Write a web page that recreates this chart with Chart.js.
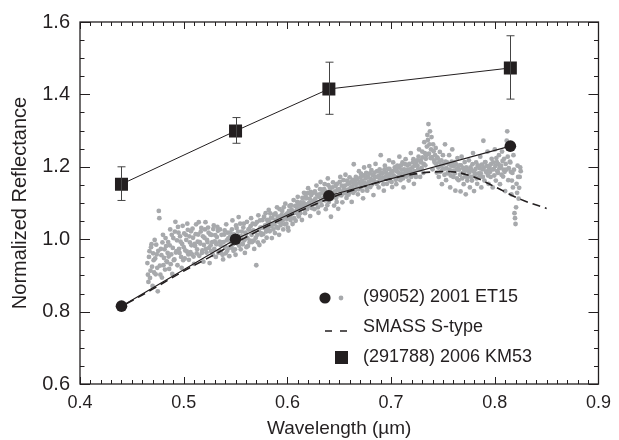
<!DOCTYPE html>
<html>
<head>
<meta charset="utf-8">
<style>
  html, body { margin: 0; padding: 0; background: #fff; }
  #wrap { width: 619px; height: 440px; }
</style>
</head>
<body>
<div id="wrap"><canvas id="myChart" width="619" height="440"></canvas></div>
<script src="https://cdn.jsdelivr.net/npm/chart.js@4.4.1/dist/chart.umd.min.js"></script>
<script>
// (291788) 2006 KM53 photometry
const kmWave = [0.44, 0.55, 0.64, 0.815];
const kmRefl = [1.152, 1.299, 1.415, 1.473];
const kmErrLow = [1.107, 1.265, 1.345, 1.387];
const kmErrHigh = [1.200, 1.336, 1.489, 1.562];

// (99052) 2001 ET15 photometry
const etWave = [0.44, 0.55, 0.64, 0.815];
const etRefl = [0.815, 1.0, 1.12, 1.257];

// SMASS S-type template
const smassWave = [0.445, 0.47, 0.50, 0.53, 0.55, 0.58, 0.61, 0.64, 0.67, 0.70, 0.73, 0.755, 0.78, 0.80, 0.825, 0.85];
const smassRefl = [0.822, 0.862, 0.912, 0.958, 0.99, 1.035, 1.075, 1.112, 1.142, 1.167, 1.183, 1.187, 1.172, 1.145, 1.11, 1.085];

// (99052) 2001 ET15 spectrum (gray dots), two interleaved read-offs
const specWaveA = [
  0.465,0.466,0.467,0.468,0.469,0.470,0.471,0.472,0.473,0.474,
  0.475,0.476,0.477,0.478,0.479,0.480,0.481,0.482,0.483,0.484,
  0.485,0.486,0.487,0.488,0.489,0.490,0.491,0.492,0.493,0.494,
  0.495,0.496,0.497,0.498,0.499,0.500,0.501,0.502,0.503,0.504,
  0.505,0.506,0.507,0.508,0.509,0.510,0.511,0.512,0.513,0.514,
  0.515,0.516,0.517,0.518,0.519,0.520,0.521,0.522,0.523,0.524,
  0.525,0.526,0.527,0.528,0.529,0.530,0.531,0.532,0.533,0.534,
  0.535,0.536,0.537,0.538,0.539,0.540,0.541,0.542,0.543,0.544,
  0.545,0.546,0.547,0.548,0.549,0.550,0.551,0.552,0.553,0.554,
  0.555,0.556,0.557,0.558,0.559,0.560,0.561,0.562,0.563,0.564,
  0.565,0.566,0.567,0.568,0.569,0.570,0.571,0.572,0.573,0.574,
  0.575,0.576,0.577,0.578,0.579,0.580,0.581,0.582,0.583,0.584,
  0.585,0.586,0.587,0.588,0.589,0.590,0.591,0.592,0.593,0.594,
  0.595,0.596,0.597,0.598,0.599,0.600,0.601,0.602,0.603,0.604,
  0.605,0.606,0.607,0.608,0.609,0.610,0.611,0.612,0.613,0.614,
  0.615,0.616,0.617,0.618,0.619,0.620,0.621,0.622,0.623,0.624,
  0.625,0.626,0.627,0.628,0.629,0.630,0.631,0.632,0.633,0.634,
  0.635,0.636,0.637,0.638,0.639,0.640,0.641,0.642,0.643,0.644,
  0.645,0.646,0.647,0.648,0.649,0.650,0.651,0.652,0.653,0.654,
  0.655,0.656,0.657,0.658,0.659,0.660,0.661,0.662,0.663,0.664,
  0.665,0.666,0.667,0.668,0.669,0.670,0.671,0.672,0.673,0.674,
  0.675,0.676,0.677,0.678,0.679,0.680,0.681,0.682,0.683,0.684,
  0.685,0.686,0.687,0.688,0.689,0.690,0.691,0.692,0.693,0.694,
  0.695,0.696,0.697,0.698,0.699,0.700,0.701,0.702,0.703,0.704,
  0.705,0.706,0.707,0.708,0.709,0.710,0.711,0.712,0.713,0.714,
  0.715,0.716,0.717,0.718,0.719,0.720,0.721,0.722,0.723,0.724,
  0.725,0.726,0.727,0.728,0.729,0.730,0.731,0.732,0.733,0.734,
  0.735,0.736,0.737,0.738,0.739,0.740,0.741,0.742,0.743,0.744,
  0.745,0.746,0.747,0.748,0.749,0.750,0.751,0.752,0.753,0.754,
  0.755,0.756,0.757,0.758,0.759,0.760,0.761,0.762,0.763,0.764,
  0.765,0.766,0.767,0.768,0.769,0.770,0.771,0.772,0.773,0.774,
  0.775,0.776,0.777,0.778,0.779,0.780,0.781,0.782,0.783,0.784,
  0.785,0.786,0.787,0.788,0.789,0.790,0.791,0.792,0.793,0.794,
  0.795,0.796,0.797,0.798,0.799,0.800,0.801,0.802,0.803,0.804,
  0.805,0.806,0.807,0.808,0.809,0.810,0.811,0.812,0.813,0.814,
  0.815,0.816,0.817,0.818,0.819,0.820,0.821,0.822,0.823,0.824,
  0.825
];
const specReflA = [
  0.934,0.882,0.967,0.913,0.986,0.871,0.942,0.998,0.903,0.958,
  0.856,1.078,0.927,0.973,0.894,1.012,0.948,0.916,0.981,0.937,
  0.992,0.918,1.027,0.958,0.904,1.003,0.944,1.048,0.967,0.928,
  1.018,0.962,0.993,0.921,1.037,0.978,0.947,1.012,0.966,1.026,
  0.943,0.991,1.022,0.958,1.004,0.932,0.981,1.041,0.972,1.013,
  0.954,0.988,1.031,0.969,0.938,1.004,1.047,0.963,0.992,1.018,
  0.934,0.983,1.012,0.957,1.038,0.994,0.951,1.006,1.023,0.968,
  1.027,0.962,0.991,0.944,1.013,0.979,1.041,0.968,1.002,0.953,
  1.018,0.977,1.052,0.968,1.004,0.957,1.031,0.988,1.061,1.007,
  0.972,1.021,0.986,1.043,0.962,1.013,1.048,0.981,1.027,0.996,
  1.058,0.992,1.024,0.973,1.041,0.928,1.012,1.066,0.984,1.032,
  1.012,1.053,0.994,1.031,1.072,1.004,1.043,1.081,1.022,1.058,
  1.003,1.041,1.068,1.017,1.052,1.088,1.031,1.012,1.063,1.044,
  1.078,1.027,1.062,1.098,1.043,1.071,1.024,1.092,1.053,1.082,
  1.042,1.108,1.073,1.051,1.089,1.117,1.063,1.084,1.102,1.053,
  1.092,1.128,1.072,1.113,1.083,1.141,1.101,1.064,1.122,1.094,
  1.128,1.083,1.112,1.148,1.101,1.073,1.124,1.158,1.094,1.137,
  1.114,1.152,1.083,1.131,1.168,1.103,1.142,1.062,1.121,1.157,
  1.093,1.132,1.114,1.153,1.084,1.138,1.172,1.121,1.102,1.163,
  1.133,1.178,1.114,1.152,1.123,1.171,1.142,1.103,1.164,1.207,
  1.134,1.172,1.153,1.124,1.188,1.143,1.181,1.162,1.113,1.198,
  1.152,1.183,1.134,1.171,1.202,1.144,1.191,1.163,1.122,1.184,
  1.208,1.153,1.172,1.143,1.193,1.232,1.164,1.182,1.134,1.203,
  1.172,1.153,1.194,1.218,1.162,1.183,1.144,1.212,1.173,1.191,
  1.152,1.203,1.184,1.228,1.163,1.192,1.212,1.143,1.182,1.221,
  1.173,1.204,1.162,1.193,1.238,1.184,1.212,1.153,1.203,1.172,
  1.218,1.193,1.248,1.172,1.212,1.242,1.183,1.268,1.204,1.232,
  1.288,1.318,1.262,1.224,1.282,1.193,1.243,1.212,1.252,1.184,
  1.223,1.172,1.241,1.203,1.152,1.232,1.194,1.262,1.163,1.212,
  1.184,1.232,1.143,1.203,1.248,1.172,1.213,1.134,1.192,1.224,
  1.163,1.204,1.132,1.228,1.183,1.152,1.213,1.124,1.192,1.172,
  1.218,1.143,1.193,1.162,1.238,1.133,1.182,1.212,1.153,1.203,
  1.172,1.228,1.143,1.193,1.272,1.162,1.213,1.184,1.242,1.153,
  1.203,1.172,1.222,1.143,1.193,1.248,1.162,1.213,1.183,1.232,
  1.152,1.203,1.242,1.173,1.222,1.133,1.192,1.298,1.163,1.258,
  1.212,1.124,1.183,1.232,1.072,1.042,1.153,1.203,1.112,1.172,
  1.188
];
const specWaveB = [
  0.4655,0.4665,0.4675,0.4685,0.4695,0.4705,0.4715,0.4725,0.4735,0.4745,
  0.4755,0.4765,0.4775,0.4785,0.4795,0.4805,0.4815,0.4825,0.4835,0.4845,
  0.4855,0.4865,0.4875,0.4885,0.4895,0.4905,0.4915,0.4925,0.4935,0.4945,
  0.4955,0.4965,0.4975,0.4985,0.4995,0.5005,0.5015,0.5025,0.5035,0.5045,
  0.5055,0.5065,0.5075,0.5085,0.5095,0.5105,0.5115,0.5125,0.5135,0.5145,
  0.5155,0.5165,0.5175,0.5185,0.5195,0.5205,0.5215,0.5225,0.5235,0.5245,
  0.5255,0.5265,0.5275,0.5285,0.5295,0.5305,0.5315,0.5325,0.5335,0.5345,
  0.5355,0.5365,0.5375,0.5385,0.5395,0.5405,0.5415,0.5425,0.5435,0.5445,
  0.5455,0.5465,0.5475,0.5485,0.5495,0.5505,0.5515,0.5525,0.5535,0.5545,
  0.5555,0.5565,0.5575,0.5585,0.5595,0.5605,0.5615,0.5625,0.5635,0.5645,
  0.5655,0.5665,0.5675,0.5685,0.5695,0.5705,0.5715,0.5725,0.5735,0.5745,
  0.5755,0.5765,0.5775,0.5785,0.5795,0.5805,0.5815,0.5825,0.5835,0.5845,
  0.5855,0.5865,0.5875,0.5885,0.5895,0.5905,0.5915,0.5925,0.5935,0.5945,
  0.5955,0.5965,0.5975,0.5985,0.5995,0.6005,0.6015,0.6025,0.6035,0.6045,
  0.6055,0.6065,0.6075,0.6085,0.6095,0.6105,0.6115,0.6125,0.6135,0.6145,
  0.6155,0.6165,0.6175,0.6185,0.6195,0.6205,0.6215,0.6225,0.6235,0.6245,
  0.6255,0.6265,0.6275,0.6285,0.6295,0.6305,0.6315,0.6325,0.6335,0.6345,
  0.6355,0.6365,0.6375,0.6385,0.6395,0.6405,0.6415,0.6425,0.6435,0.6445,
  0.6455,0.6465,0.6475,0.6485,0.6495,0.6505,0.6515,0.6525,0.6535,0.6545,
  0.6555,0.6565,0.6575,0.6585,0.6595,0.6605,0.6615,0.6625,0.6635,0.6645,
  0.6655,0.6665,0.6675,0.6685,0.6695,0.6705,0.6715,0.6725,0.6735,0.6745,
  0.6755,0.6765,0.6775,0.6785,0.6795,0.6805,0.6815,0.6825,0.6835,0.6845,
  0.6855,0.6865,0.6875,0.6885,0.6895,0.6905,0.6915,0.6925,0.6935,0.6945,
  0.6955,0.6965,0.6975,0.6985,0.6995,0.7005,0.7015,0.7025,0.7035,0.7045,
  0.7055,0.7065,0.7075,0.7085,0.7095,0.7105,0.7115,0.7125,0.7135,0.7145,
  0.7155,0.7165,0.7175,0.7185,0.7195,0.7205,0.7215,0.7225,0.7235,0.7245,
  0.7255,0.7265,0.7275,0.7285,0.7295,0.7305,0.7315,0.7325,0.7335,0.7345,
  0.7355,0.7365,0.7375,0.7385,0.7395,0.7405,0.7415,0.7425,0.7435,0.7445,
  0.7455,0.7465,0.7475,0.7485,0.7495,0.7505,0.7515,0.7525,0.7535,0.7545,
  0.7555,0.7565,0.7575,0.7585,0.7595,0.7605,0.7615,0.7625,0.7635,0.7645,
  0.7655,0.7665,0.7675,0.7685,0.7695,0.7705,0.7715,0.7725,0.7735,0.7745,
  0.7755,0.7765,0.7775,0.7785,0.7795,0.7805,0.7815,0.7825,0.7835,0.7845,
  0.7855,0.7865,0.7875,0.7885,0.7895,0.7905,0.7915,0.7925,0.7935,0.7945,
  0.7955,0.7965,0.7975,0.7985,0.7995,0.8005,0.8015,0.8025,0.8035,0.8045,
  0.8055,0.8065,0.8075,0.8085,0.8095,0.8105,0.8115,0.8125,0.8135,0.8145,
  0.8155,0.8165,0.8175,0.8185,0.8195,0.8205,0.8215,0.8225,0.8235,0.8245
];
const specReflB = [
  0.902,0.951,0.893,0.978,0.924,0.961,0.908,0.947,0.985,0.921,
  0.968,1.058,0.902,0.956,0.991,0.928,0.972,1.003,0.939,0.962,
  0.952,0.983,0.931,1.012,0.976,0.942,1.021,0.963,0.997,1.034,
  0.973,1.008,0.951,0.987,0.942,1.016,0.969,0.998,1.043,0.958,
  1.008,0.964,0.983,1.029,0.952,0.987,1.014,0.961,0.993,1.047,
  0.992,1.021,0.962,1.008,0.984,1.027,0.973,0.998,1.032,0.976,
  1.013,0.967,0.992,1.028,0.973,1.011,0.986,1.034,0.962,0.993,
  0.983,1.012,0.957,0.992,1.024,0.961,0.997,1.018,0.976,1.006,
  0.993,1.027,0.986,1.013,0.972,1.038,0.996,1.021,0.982,1.043,
  1.008,0.988,1.032,0.997,1.018,0.978,1.003,1.027,0.991,1.036,
  1.012,1.043,0.996,1.021,1.004,1.047,0.991,1.026,1.052,1.017,
  1.032,1.014,1.062,1.038,1.021,1.053,1.029,1.047,1.071,1.036,
  1.058,1.027,1.043,1.071,1.034,1.062,1.048,1.083,1.039,1.067,
  1.052,1.088,1.041,1.068,1.056,1.032,1.078,1.063,1.094,1.071,
  1.074,1.058,1.092,1.078,1.103,1.068,1.096,1.072,1.088,1.114,
  1.102,1.083,1.118,1.096,1.127,1.091,1.112,1.131,1.086,1.106,
  1.104,1.132,1.097,1.123,1.088,1.117,1.138,1.106,1.127,1.113,
  1.138,1.107,1.127,1.094,1.149,1.118,1.133,1.112,1.143,1.126,
  1.124,1.147,1.103,1.136,1.122,1.158,1.131,1.148,1.127,1.139,
  1.148,1.126,1.162,1.137,1.154,1.131,1.158,1.146,1.128,1.152,
  1.162,1.141,1.167,1.138,1.158,1.171,1.152,1.134,1.176,1.156,
  1.168,1.142,1.173,1.158,1.182,1.166,1.151,1.177,1.161,1.172,
  1.172,1.188,1.158,1.176,1.163,1.184,1.171,1.152,1.192,1.168,
  1.183,1.166,1.178,1.194,1.171,1.158,1.188,1.176,1.198,1.164,
  1.188,1.172,1.198,1.176,1.204,1.181,1.168,1.193,1.207,1.184,
  1.192,1.178,1.208,1.186,1.172,1.198,1.221,1.188,1.176,1.213,
  1.203,1.228,1.192,1.218,1.197,1.226,1.208,1.238,1.222,1.256,
  1.274,1.236,1.298,1.248,1.227,1.262,1.218,1.232,1.208,1.226,
  1.198,1.213,1.186,1.218,1.192,1.207,1.178,1.214,1.196,1.182,
  1.208,1.192,1.176,1.214,1.188,1.201,1.182,1.207,1.168,1.196,
  1.192,1.178,1.204,1.168,1.196,1.187,1.173,1.198,1.162,1.188,
  1.184,1.198,1.172,1.207,1.188,1.176,1.194,1.168,1.203,1.182,
  1.196,1.182,1.206,1.172,1.198,1.212,1.187,1.202,1.176,1.194,
  1.186,1.208,1.193,1.212,1.176,1.202,1.224,1.188,1.207,1.196,
  1.198,1.178,1.216,1.192,1.186,1.208,1.272,1.228,1.196,1.214,
  1.186,1.162,1.143,1.192,1.058,1.088,1.128,1.172,1.142,1.198
];

const legendLabels = ["(99052) 2001 ET15", "SMASS S-type", "(291788) 2006 KM53"];

const ink = "#231f20";
const dotGray = "#a7a9ac";
const fontFam = "'Liberation Sans', Arial, sans-serif";

const toPts = (xs, ys) => xs.map((v, i) => ({ x: v, y: ys[i] }));

// inward ticks + closed frame
const framePlugin = {
  id: "frame",
  afterDraw(chart) {
    const { ctx, chartArea: a, scales: { x, y } } = chart;
    ctx.save();
    ctx.strokeStyle = ink;
    ctx.lineWidth = 1;
    ctx.beginPath();
    for (let i = 0; i <= 50; i++) {
      const px = Math.round(x.getPixelForValue(0.4 + i * 0.01)) + 0.5;
      const len = i % 10 === 0 ? 7 : 4;
      ctx.moveTo(px, a.bottom); ctx.lineTo(px, a.bottom - len);
      ctx.moveTo(px, a.top); ctx.lineTo(px, a.top + len);
    }
    for (let i = 0; i <= 20; i++) {
      const py = Math.round(y.getPixelForValue(0.6 + i * 0.05)) + 0.5;
      const len = i % 4 === 0 ? 10 : 4.5;
      ctx.moveTo(a.left, py); ctx.lineTo(a.left + len, py);
      ctx.moveTo(a.right, py); ctx.lineTo(a.right - len, py);
    }
    ctx.stroke();
    ctx.lineWidth = 1.3;
    ctx.strokeRect(a.left, a.top, a.right - a.left, a.bottom - a.top);
    ctx.restore();
  }
};

// error bars on the KM53 squares
const errorBarPlugin = {
  id: "errbars",
  afterDatasetsDraw(chart) {
    const { ctx, scales: { x, y } } = chart;
    ctx.save();
    ctx.strokeStyle = "#444";
    ctx.lineWidth = 1;
    ctx.beginPath();
    kmWave.forEach((w, i) => {
      const px = Math.round(x.getPixelForValue(w)) + 0.5;
      const lo = y.getPixelForValue(kmErrLow[i]);
      const hi = y.getPixelForValue(kmErrHigh[i]);
      ctx.moveTo(px, lo); ctx.lineTo(px, hi);
      ctx.moveTo(px - 4, lo); ctx.lineTo(px + 4, lo);
      ctx.moveTo(px - 4, hi); ctx.lineTo(px + 4, hi);
    });
    ctx.stroke();
    ctx.restore();
  }
};

// legend inside the plot
const legendPlugin = {
  id: "innerLegend",
  afterDraw(chart) {
    const ctx = chart.ctx;
    ctx.save();
    ctx.fillStyle = ink;
    ctx.font = "18px " + fontFam;
    ctx.textBaseline = "middle";
    ctx.textAlign = "left";
    const tx = 363;
    const rows = [297, 327, 357];

    ctx.beginPath();
    ctx.arc(325, rows[0] + 1, 5.6, 0, Math.PI * 2);
    ctx.fill();
    ctx.fillStyle = dotGray;
    ctx.beginPath();
    ctx.arc(341, rows[0] + 1, 2.4, 0, Math.PI * 2);
    ctx.fill();

    ctx.strokeStyle = ink;
    ctx.lineWidth = 1.6;
    ctx.beginPath();
    ctx.moveTo(325, rows[1] + 4); ctx.lineTo(332, rows[1] + 4);
    ctx.moveTo(340, rows[1] + 4); ctx.lineTo(347, rows[1] + 4);
    ctx.stroke();

    ctx.fillStyle = ink;
    ctx.fillRect(335, rows[2] - 6, 13, 13);

    legendLabels.forEach((t, i) => ctx.fillText(t, tx, rows[i]));
    ctx.restore();
  }
};

const grayDots = (xs, ys) => ({
  label: "spectrum",
  data: toPts(xs, ys),
  showLine: false,
  backgroundColor: dotGray,
  pointRadius: 2.4,
  pointBorderWidth: 0,
  order: 10
});

new Chart("myChart", {
  type: "scatter",
  data: {
    datasets: [
      {
        label: "(291788) 2006 KM53",
        data: toPts(kmWave, kmRefl),
        showLine: true,
        borderColor: ink,
        borderWidth: 1,
        backgroundColor: ink,
        pointStyle: "rect",
        pointRadius: 9.2,
        pointBorderWidth: 0,
        order: 1
      },
      {
        label: "(99052) 2001 ET15",
        data: toPts(etWave, etRefl),
        showLine: true,
        borderColor: ink,
        borderWidth: 1.2,
        backgroundColor: ink,
        pointStyle: "circle",
        pointRadius: 5.8,
        pointBorderWidth: 0,
        order: 2
      },
      {
        label: "SMASS S-type",
        data: toPts(smassWave, smassRefl),
        showLine: true,
        borderColor: ink,
        borderWidth: 1.6,
        borderDash: [8, 5],
        tension: 0.4,
        cubicInterpolationMode: "monotone",
        pointRadius: 0,
        order: 3
      },
      grayDots(specWaveA, specReflA),
      grayDots(specWaveB, specReflB)
    ]
  },
  options: {
    responsive: false,
    animation: false,
    layout: { padding: { left: 0, top: 13, right: 16, bottom: 0 } },
    plugins: {
      legend: { display: false },
      tooltip: { enabled: false }
    },
    scales: {
      x: {
        type: "linear",
        min: 0.4,
        max: 0.9,
        afterFit: (s) => { s.height = 56; },
        grid: { display: false, drawTicks: false },
        border: { display: false },
        ticks: {
          stepSize: 0.1,
          padding: 8,
          color: ink,
          font: { family: fontFam, size: 18 },
          callback: (v) => v.toFixed(1)
        },
        title: {
          display: true,
          text: "Wavelength (\u00b5m)",
          color: ink,
          font: { family: fontFam, size: 19 },
          padding: { top: 0, bottom: 0 }
        }
      },
      y: {
        type: "linear",
        min: 0.6,
        max: 1.6,
        afterFit: (s) => { s.width = 80; },
        grid: { display: false, drawTicks: false },
        border: { display: false },
        ticks: {
          stepSize: 0.2,
          padding: 10,
          color: ink,
          font: { family: fontFam, size: 20 },
          callback: (v) => v.toFixed(1)
        },
        title: {
          display: true,
          text: "Normalized Reflectance",
          color: ink,
          font: { family: fontFam, size: 20 },
          padding: { top: 8, bottom: 0 }
        }
      }
    }
  },
  plugins: [framePlugin, errorBarPlugin, legendPlugin]
});
</script>
</body>
</html>
